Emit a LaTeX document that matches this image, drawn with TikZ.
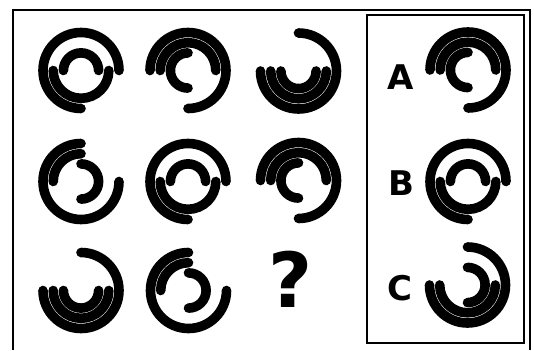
\documentclass[tikz,border=0pt]{standalone}
\usepackage{fontspec}
\newfontfamily\lblfont{DejaVu Sans}
\newcommand\ringfig[7]{%
  \draw[arcs] ([shift={(#2:38)}]#1) arc[start angle=#2,end angle=#3,radius=38];
  \draw[arcs] ([shift={(#4:27.8)}]#1) arc[start angle=#4,end angle=#5,radius=27.8];
  \draw[arcs] ([shift={(#6:17.6)}]#1) arc[start angle=#6,end angle=#7,radius=17.6];
}
\begin{document}
\begin{tikzpicture}[x=1pt,y=1pt,
  arcs/.style={line width=9.6pt,line cap=round},
  frame/.style={line width=2pt},
  box/.style={line width=1.5pt},
  lbl/.style={font=\lblfont\bfseries\fontsize{34}{34}\selectfont,inner sep=0pt}]
\useasboundingbox (0,0) rectangle (534,350);
\fill[white] (0,0) rectangle (534,350);
% frames
\draw[frame] (13,0) -- (13,340) -- (530,340) -- (530,0);
\draw[box] (367,7) rectangle (524,335);
% centres
\coordinate (f1) at (81,279.5);
\coordinate (f2) at (188,279.5);
\coordinate (f3) at (298.5,279);
\coordinate (f4) at (81,168.5);
\coordinate (f5) at (188,168.5);
\coordinate (f6) at (298.5,169.5);
\coordinate (f7) at (81,59.5);
\coordinate (f8) at (188.5,59.5);
\coordinate (oa) at (468,280);
\coordinate (ob) at (468,168.5);
\coordinate (oc) at (467.5,65);
% figures
\ringfig{f1}{0}{270}{180}{360}{0}{180}
\ringfig{f2}{-90}{180}{0}{180}{90}{270}
\ringfig{f3}{180}{450}{180}{360}{180}{360}
\ringfig{f4}{90}{360}{90}{180}{-90}{90}
\ringfig{f5}{0}{270}{180}{360}{0}{180}
\ringfig{f6}{-90}{180}{0}{180}{90}{270}
\ringfig{f7}{180}{450}{180}{360}{180}{360}
\ringfig{f8}{90}{360}{90}{180}{-90}{90}
\ringfig{oa}{-90}{180}{0}{180}{90}{270}
\ringfig{ob}{0}{270}{180}{360}{0}{180}
\ringfig{oc}{180}{450}{180}{360}{-90}{90}
% labels
\node[font=\lblfont\bfseries\fontsize{76}{76}\selectfont,inner sep=0pt] (q) at (291,71) {?};
\node[lbl] (la) at (401,273) {A};
\node[lbl] (lb) at (401,167) {B};
\node[lbl] (lc) at (400,62) {C};
\end{tikzpicture}
\end{document}
